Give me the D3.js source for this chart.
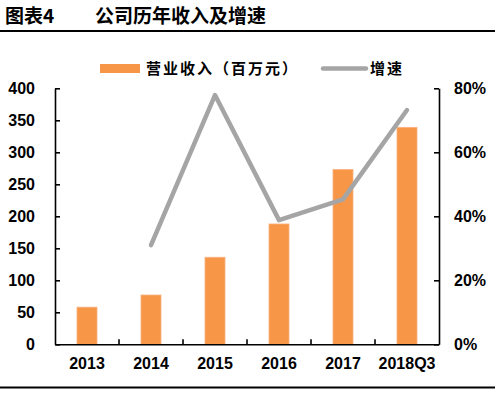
<!DOCTYPE html>
<html>
<head>
<meta charset="utf-8">
<script src="https://cdn.jsdelivr.net/npm/d3@7"></script>
<style>
  body { margin: 0; background: #fff; }
  svg { display: block; }
  .tick-label { font-family: "Liberation Sans", Arial, sans-serif; font-weight: bold; font-size: 16px; fill: #000; }
  .cjk { font-family: "Noto Sans CJK SC", sans-serif; font-weight: bold; fill: #000; }
</style>
</head>
<body>
<svg id="chart"></svg>
<script>
// data
const years = ["2013", "2014", "2015", "2016", "2017", "2018Q3"];
const revenue = [58, 77, 136, 188, 273, 339];
const growth = [null, 31.0, 77.9, 38.8, 45.3, 73.2];
const leftTicks = [0, 50, 100, 150, 200, 250, 300, 350, 400];
const rightTicks = [0, 20, 40, 60, 80];

const width = 502, height = 394;
const plot = { left: 55, right: 439, top: 88.3, bottom: 344.3 };
const barColor = "#f79646", lineColor = "#a5a5a5";

const svg = d3.select("#chart")
    .attr("width", width)
    .attr("height", height);

// title and rules
svg.append("text").attr("class", "cjk")
    .attr("x", 5).attr("y", 23)
    .style("font-size", "19px")
    .text("图表4");
svg.append("text").attr("class", "cjk")
    .attr("x", 95).attr("y", 23)
    .style("font-size", "19px")
    .text("公司历年收入及增速");
svg.append("line")
    .attr("x1", 0).attr("x2", 495).attr("y1", 31).attr("y2", 31)
    .attr("stroke", "#000").attr("stroke-width", 2);
svg.append("line")
    .attr("x1", 0).attr("x2", 495).attr("y1", 387.5).attr("y2", 387.5)
    .attr("stroke", "#000").attr("stroke-width", 2);

// scales
var x = d3.scaleBand()
    .domain(years)
    .range([plot.left, plot.right])
    .padding(0);

var yLeft = d3.scaleLinear()
    .domain([0, 400])
    .range([plot.bottom, plot.top]);

var yRight = d3.scaleLinear()
    .domain([0, 80])
    .range([plot.bottom, plot.top]);

const barW = x.bandwidth() * 0.3125;

// bars
svg.selectAll("rect.bar")
    .data(years)
    .enter()
  .append("rect")
    .attr("class", "bar")
    .attr("x", (d, i) => x(d) + x.bandwidth() / 2 - barW / 2)
    .attr("y", (d, i) => yLeft(revenue[i]))
    .attr("width", barW)
    .attr("height", (d, i) => yLeft(0) - yLeft(revenue[i]))
    .attr("fill", barColor)
    .attr("stroke", "#fbb27e")
    .attr("stroke-width", 0.8);

// growth line
var line = d3.line()
    .defined(d => d.v != null)
    .x(d => x(d.year) + x.bandwidth() / 2)
    .y(d => yRight(d.v));

svg.append("path")
    .datum(years.map((y, i) => ({ year: y, v: growth[i] })))
    .attr("d", line)
    .attr("fill", "none")
    .attr("stroke", lineColor)
    .attr("stroke-width", 4.5)
    .attr("stroke-linejoin", "round")
    .attr("stroke-linecap", "round");

// left axis
var leftAxis = svg.append("g")
    .attr("transform", "translate(" + plot.left + ",0)")
    .call(d3.axisRight(yLeft).tickValues(leftTicks).tickSize(5).tickSizeOuter(0));
leftAxis.select(".domain").attr("stroke-width", 1.6);
leftAxis.selectAll(".tick line").attr("stroke-width", 1.6);
leftAxis.selectAll(".tick text")
    .attr("class", "tick-label")
    .attr("x", -20)
    .attr("dy", "0.35em")
    .style("text-anchor", "end");

// right axis
var rightAxis = svg.append("g")
    .attr("transform", "translate(" + plot.right + ",0)")
    .call(d3.axisLeft(yRight).tickValues(rightTicks).tickSize(5).tickSizeOuter(0)
        .tickFormat(d => d + "%"));
rightAxis.select(".domain").attr("stroke-width", 1.6);
rightAxis.selectAll(".tick line").attr("stroke-width", 1.6);
rightAxis.selectAll(".tick text")
    .attr("class", "tick-label")
    .attr("x", 15)
    .attr("dy", "0.35em")
    .style("text-anchor", "start");

// bottom axis: labels centred, ticks on category boundaries
var bottomAxis = svg.append("g")
    .attr("transform", "translate(0," + plot.bottom + ")")
    .call(d3.axisBottom(x).tickSize(0).tickSizeOuter(0));
bottomAxis.select(".domain").attr("stroke-width", 1.6);
bottomAxis.selectAll(".tick text")
    .attr("class", "tick-label")
    .attr("y", 19)
    .attr("dy", "0.35em");

svg.selectAll("line.xtick")
    .data(years.slice(1))
    .enter()
  .append("line")
    .attr("class", "xtick")
    .attr("x1", d => x(d)).attr("x2", d => x(d))
    .attr("y1", plot.bottom).attr("y2", plot.bottom - 5)
    .attr("stroke", "#000").attr("stroke-width", 1.6);

// legend
var legend = svg.append("g");
legend.append("rect")
    .attr("x", 100).attr("y", 64)
    .attr("width", 40).attr("height", 9)
    .attr("fill", barColor);
legend.append("text").attr("class", "cjk")
    .attr("x", 146).attr("y", 68.5)
    .attr("dy", "0.35em")
    .style("font-size", "15px")
    .style("letter-spacing", "2px")
    .text("营业收入（百万元）");
legend.append("line")
    .attr("x1", 323).attr("x2", 366).attr("y1", 68.5).attr("y2", 68.5)
    .attr("stroke", lineColor).attr("stroke-width", 4.5)
    .attr("stroke-linecap", "round");
legend.append("text").attr("class", "cjk")
    .attr("x", 370).attr("y", 68.5)
    .attr("dy", "0.35em")
    .style("font-size", "15px")
    .style("letter-spacing", "2px")
    .text("增速");
</script>
</body>
</html>
